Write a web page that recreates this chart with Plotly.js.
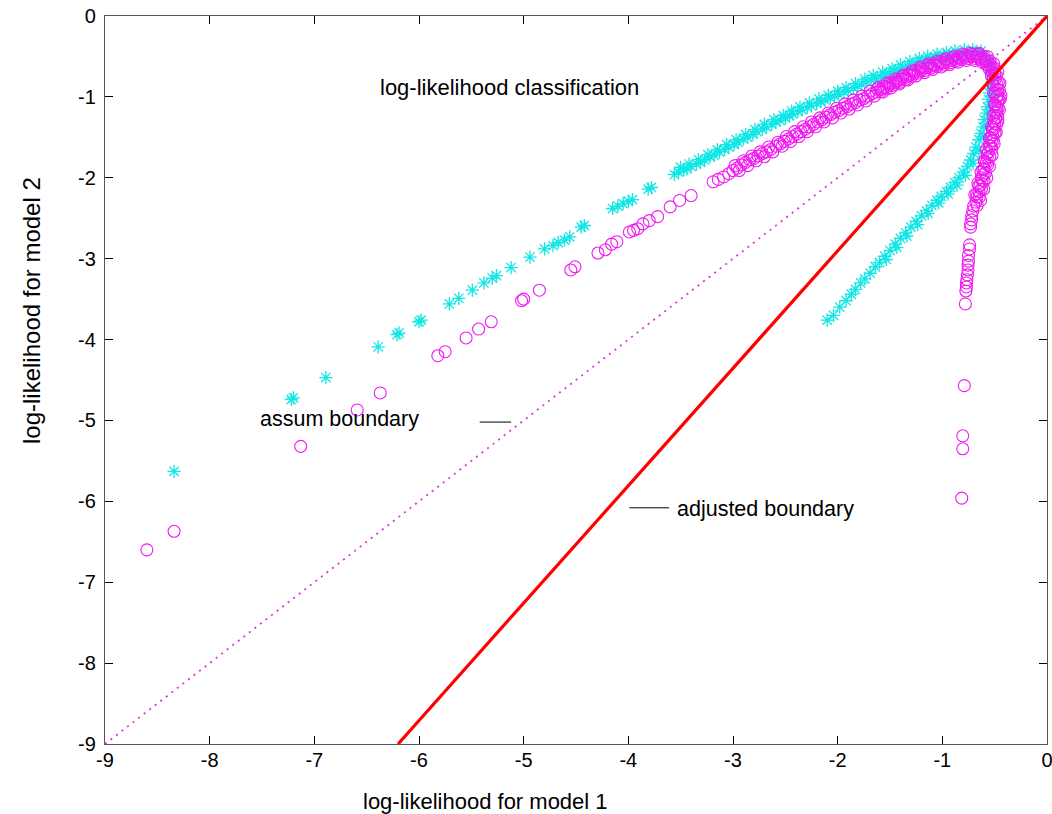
<!DOCTYPE html>
<html>
<head>
<meta charset="utf-8">
<script src="https://cdn.plot.ly/plotly-3.0.1.min.js"></script>
<style>html,body{margin:0;padding:0;background:#fff;}#chart{width:1052px;height:814px;}</style>
</head>
<body>
<div id="chart"></div>
<script>
// ---- tick labels ----
const xTickVals = [-9,-8,-7,-6,-5,-4,-3,-2,-1,0];
const xTickLabels = ['-9','-8','-7','-6','-5','-4','-3','-2','-1','0'];
const yTickVals = [-9,-8,-7,-6,-5,-4,-3,-2,-1,0];
const yTickLabels = ['-9','-8','-7','-6','-5','-4','-3','-2','-1','0'];

// ---- cyan asterisks (model 1 class) ----
const cyanSparseX = [-8.34,-7.22,-7.20,-6.89,-6.39,-6.21,-6.19,-6.00,-5.98,-5.71,-5.62,-5.49,-5.38,-5.30,-5.26,-5.12,-4.94,-4.80,-4.72,-4.67,-4.61,-4.56,-4.45,-4.42,-4.15,-4.10,-4.05,-4.00,-3.96,-3.81,-3.78];
const cyanSparseY = [-5.63,-4.74,-4.72,-4.47,-4.09,-3.94,-3.92,-3.78,-3.76,-3.56,-3.49,-3.39,-3.30,-3.24,-3.21,-3.11,-2.98,-2.88,-2.84,-2.80,-2.77,-2.73,-2.61,-2.59,-2.38,-2.35,-2.32,-2.29,-2.27,-2.14,-2.12];
const cyanUpperX = [-3.56,-3.52,-3.47,-3.44,-3.40,-3.35,-3.31,-3.27,-3.22,-3.18,-3.13,-3.08,-3.04,-2.99,-2.95,-2.90,-2.86,-2.81,-2.77,-2.72,-2.68,-2.63,-2.59,-2.55,-2.50,-2.46,-2.43,-2.38,-2.34,-2.29,-2.25,-2.20,-2.16,-2.12,-2.07,-2.03,-1.99,-1.94,-1.90,-1.85,-1.81,-1.77,-1.72,-1.68,-1.64,-1.59,-1.55,-1.51,-1.46,-1.42,-1.38,-1.33,-1.29,-1.25,-1.20,-1.16,-1.12,-1.07,-1.03,-0.99,-0.94,-0.90,-0.86,-0.81,-0.77,-0.73,-0.69,-0.65,-0.61,-0.57,-0.55,-0.54,-0.53,-0.53,-0.54];
const cyanUpperY = [-1.96,-1.93,-1.90,-1.89,-1.86,-1.83,-1.81,-1.78,-1.74,-1.72,-1.68,-1.65,-1.62,-1.59,-1.56,-1.52,-1.50,-1.46,-1.43,-1.40,-1.37,-1.34,-1.31,-1.29,-1.26,-1.23,-1.21,-1.18,-1.16,-1.13,-1.11,-1.08,-1.06,-1.04,-1.01,-0.99,-0.97,-0.94,-0.92,-0.89,-0.87,-0.84,-0.81,-0.79,-0.77,-0.75,-0.73,-0.71,-0.68,-0.66,-0.64,-0.62,-0.60,-0.58,-0.56,-0.55,-0.53,-0.52,-0.51,-0.50,-0.49,-0.48,-0.47,-0.47,-0.46,-0.46,-0.46,-0.47,-0.49,-0.53,-0.58,-0.64,-0.71,-0.78,-0.86];
const cyanUpperRowX = [-3.50,-3.42,-3.33,-3.24,-3.15,-3.06,-2.97,-2.88,-2.79,-2.70,-2.61,-2.52,-2.44,-2.36,-2.27,-2.18,-2.09,-2.00,-1.92,-1.83,-1.74,-1.66,-1.57,-1.48,-1.40,-1.31,-1.22,-1.14,-1.05,-0.96,-0.88,-0.79,-0.71,-0.63];
const cyanUpperRowY = [-1.87,-1.83,-1.775,-1.715,-1.655,-1.59,-1.53,-1.465,-1.405,-1.34,-1.28,-1.23,-1.175,-1.125,-1.075,-1.025,-0.98,-0.93,-0.885,-0.835,-0.78,-0.735,-0.695,-0.65,-0.605,-0.565,-0.525,-0.495,-0.47,-0.45,-0.43,-0.42,-0.415,-0.435];
const cyanApexRowX = [-1.62,-1.53,-1.44,-1.35,-1.26,-1.17,-1.08,-0.99,-0.90,-0.81,-0.72,-0.64];
const cyanApexRowY = [-0.795,-0.75,-0.70,-0.66,-0.615,-0.58,-0.555,-0.53,-0.51,-0.50,-0.49,-0.50];
const cyanLowerX = [-0.55,-0.56,-0.57,-0.58,-0.60,-0.61,-0.63,-0.65,-0.68,-0.70,-0.73,-0.76,-0.80,-0.84,-0.88,-0.92,-0.96,-1.01,-1.05,-1.10,-1.15,-1.20,-1.25,-1.30,-1.35,-1.40,-1.45,-1.50,-1.55,-1.60,-1.64,-1.69,-1.74,-1.78,-1.83,-1.87,-1.92,-1.98,-2.04,-2.10];
const cyanLowerY = [-0.95,-1.03,-1.12,-1.20,-1.28,-1.37,-1.45,-1.53,-1.62,-1.70,-1.78,-1.86,-1.93,-2.00,-2.06,-2.12,-2.17,-2.23,-2.28,-2.34,-2.41,-2.47,-2.54,-2.61,-2.68,-2.75,-2.82,-2.90,-2.97,-3.05,-3.10,-3.18,-3.25,-3.30,-3.38,-3.44,-3.52,-3.60,-3.70,-3.76];
const cyanLowerRowX = [-0.515,-0.535,-0.565,-0.60,-0.65,-0.705,-0.78,-0.86,-0.945,-1.035,-1.135,-1.235,-1.34,-1.435,-1.535];
const cyanLowerRowY = [-1.00,-1.16,-1.33,-1.49,-1.66,-1.82,-1.97,-2.09,-2.20,-2.31,-2.44,-2.58,-2.72,-2.86,-3.01];

// ---- magenta circles (model 2 class) ----
const magSparseX = [-8.60,-8.34,-7.13,-6.59,-6.37,-5.82,-5.75,-5.55,-5.43,-5.31,-5.02,-5.00,-4.85,-4.55,-4.51,-4.29,-4.22,-4.16,-4.11,-3.99,-3.95,-3.91,-3.86,-3.80,-3.72,-3.60,-3.51,-3.40,-3.19,-3.14,-3.09,-3.04];
const magSparseY = [-6.60,-6.37,-5.32,-4.87,-4.66,-4.20,-4.15,-3.98,-3.87,-3.78,-3.52,-3.50,-3.39,-3.14,-3.10,-2.93,-2.89,-2.82,-2.79,-2.67,-2.65,-2.63,-2.57,-2.53,-2.48,-2.36,-2.28,-2.22,-2.05,-2.02,-1.99,-1.95];
const magUpperX = [-3.00,-2.96,-2.92,-2.88,-2.84,-2.80,-2.76,-2.72,-2.68,-2.64,-2.59,-2.55,-2.51,-2.47,-2.43,-2.39,-2.35,-2.31,-2.27,-2.23,-2.19,-2.15,-2.11,-2.07,-2.03,-1.99,-1.95,-1.91,-1.87,-1.83,-1.79,-1.75,-1.71,-1.67,-1.63,-1.59,-1.55,-1.51,-1.47,-1.43,-1.39,-1.35,-1.31,-1.27,-1.23,-1.19,-1.15,-1.11,-1.07,-1.03,-0.99,-0.95,-0.91,-0.87,-0.83,-0.79,-0.75,-0.71,-0.67,-0.63,-0.60,-0.57,-0.54,-0.52,-0.50,-0.49,-0.48,-0.47,-0.47,-0.47];
const magUpperY = [-1.91,-1.88,-1.84,-1.81,-1.78,-1.76,-1.73,-1.70,-1.68,-1.65,-1.61,-1.58,-1.55,-1.52,-1.49,-1.46,-1.43,-1.40,-1.37,-1.34,-1.31,-1.28,-1.25,-1.22,-1.19,-1.17,-1.14,-1.12,-1.09,-1.07,-1.04,-1.02,-0.99,-0.96,-0.94,-0.91,-0.89,-0.86,-0.83,-0.81,-0.78,-0.76,-0.73,-0.71,-0.68,-0.66,-0.64,-0.62,-0.61,-0.59,-0.58,-0.56,-0.55,-0.53,-0.52,-0.51,-0.50,-0.50,-0.50,-0.51,-0.53,-0.56,-0.60,-0.65,-0.71,-0.77,-0.84,-0.91,-0.98,-1.05];
const magUpperRowAX = [-2.98,-2.90,-2.82,-2.74,-2.66,-2.57,-2.49,-2.41,-2.33,-2.25,-2.17,-2.09,-2.01,-1.93,-1.85,-1.77,-1.69,-1.61,-1.53,-1.45,-1.37,-1.29,-1.21,-1.13,-1.05,-0.97,-0.89,-0.81,-0.73,-0.65,-0.57,-0.51,-0.47,-0.45,-0.44];
const magUpperRowAY = [-1.85,-1.79,-1.73,-1.68,-1.62,-1.56,-1.49,-1.43,-1.37,-1.31,-1.26,-1.20,-1.14,-1.09,-1.04,-0.99,-0.93,-0.88,-0.83,-0.78,-0.73,-0.68,-0.63,-0.59,-0.56,-0.53,-0.50,-0.47,-0.46,-0.46,-0.50,-0.59,-0.69,-0.83,-0.98];
const magUpperRowBX = [-2.94,-2.86,-2.78,-2.70,-2.62,-2.53,-2.45,-2.37,-2.29,-2.21,-2.13,-2.05,-1.97,-1.89,-1.81,-1.73,-1.65,-1.57,-1.49,-1.41,-1.33,-1.25,-1.17,-1.09,-1.01,-0.93,-0.85,-0.77,-0.69,-0.62,-0.58,-0.55,-0.53,-0.52,-0.51];
const magUpperRowBY = [-1.91,-1.85,-1.79,-1.74,-1.68,-1.61,-1.55,-1.49,-1.43,-1.37,-1.31,-1.26,-1.20,-1.15,-1.10,-1.05,-0.99,-0.94,-0.89,-0.84,-0.79,-0.74,-0.70,-0.66,-0.63,-0.60,-0.57,-0.55,-0.55,-0.57,-0.60,-0.66,-0.74,-0.84,-0.95];
const magApexRowCX = [-1.62,-1.56,-1.50,-1.44,-1.38,-1.32,-1.26,-1.20,-1.14,-1.08,-1.02,-0.96,-0.90,-0.84,-0.78,-0.72,-0.66,-0.60,-0.545,-0.505,-0.485,-0.465,-0.455];
const magApexRowCY = [-0.90,-0.87,-0.83,-0.80,-0.75,-0.715,-0.675,-0.64,-0.61,-0.59,-0.565,-0.54,-0.52,-0.50,-0.485,-0.475,-0.475,-0.50,-0.56,-0.64,-0.73,-0.82,-0.92];
const magApexRowDX = [-1.59,-1.53,-1.47,-1.41,-1.35,-1.29,-1.23,-1.17,-1.11,-1.05,-0.99,-0.93,-0.87,-0.81,-0.75,-0.69,-0.64,-0.59,-0.555,-0.53,-0.515,-0.505,-0.495];
const magApexRowDY = [-0.935,-0.90,-0.855,-0.82,-0.785,-0.745,-0.705,-0.675,-0.645,-0.625,-0.605,-0.58,-0.555,-0.54,-0.525,-0.525,-0.535,-0.565,-0.62,-0.69,-0.77,-0.86,-0.95];
const magLowerX = [-0.48,-0.48,-0.49,-0.50,-0.51,-0.52,-0.53,-0.54,-0.56,-0.57,-0.58,-0.60,-0.61,-0.62,-0.64,-0.65,-0.67,-0.68,-0.70,-0.71,-0.72,-0.72,-0.73,-0.73,-0.74,-0.74,-0.75,-0.75,-0.755,-0.755,-0.76,-0.765,-0.77,-0.77,-0.775,-0.78,-0.79,-0.805,-0.805,-0.815];
const magLowerY = [-1.12,-1.19,-1.26,-1.33,-1.40,-1.47,-1.54,-1.61,-1.68,-1.75,-1.82,-1.89,-1.96,-2.03,-2.10,-2.17,-2.24,-2.30,-2.35,-2.41,-2.47,-2.52,-2.57,-2.61,-2.83,-2.88,-2.96,-3.03,-3.08,-3.14,-3.20,-3.26,-3.30,-3.35,-3.40,-3.56,-4.57,-5.19,-5.35,-5.96];
const magLowerRowAX = [-0.445,-0.455,-0.47,-0.485,-0.505,-0.525,-0.55,-0.575,-0.605,-0.635];
const magLowerRowAY = [-1.02,-1.16,-1.30,-1.44,-1.58,-1.72,-1.86,-2.00,-2.14,-2.28];
const magLowerRowBX = [-0.50,-0.51,-0.53,-0.55,-0.58,-0.60,-0.63,-0.66,-0.69];
const magLowerRowBY = [-1.09,-1.23,-1.37,-1.51,-1.65,-1.79,-1.93,-2.07,-2.21];
const magLowerRowCX = [-0.457,-0.467,-0.472,-0.482,-0.497,-0.512,-0.527,-0.547,-0.567,-0.587,-0.602,-0.627,-0.647,-0.667];
const magLowerRowCY = [-1.04,-1.14,-1.24,-1.34,-1.44,-1.54,-1.64,-1.74,-1.84,-1.94,-2.04,-2.14,-2.24,-2.34];
const magLowerRowDX = [-0.483,-0.493,-0.498,-0.508,-0.523,-0.538,-0.553,-0.573,-0.593,-0.613,-0.628,-0.653,-0.673];
const magLowerRowDY = [-1.00,-1.10,-1.20,-1.30,-1.40,-1.50,-1.60,-1.70,-1.80,-1.90,-2.00,-2.10,-2.20];

// ---- boundaries ----
const assumX = [-9, 0];
const assumY = [-9, 0];
const adjustedX = [-6.2, 0];
const adjustedY = [-9, 0];
const assumKeyX = [-5.42, -5.12];
const assumKeyY = [-5.02, -5.02];
const adjustedKeyX = [-3.99, -3.61];
const adjustedKeyY = [-6.08, -6.08];

// ---- texts ----
const chartTitle = 'log-likelihood classification';
const xTitle = 'log-likelihood for model 1';
const yTitle = 'log-likelihood for model 2';
const assumLabel = 'assum boundary';
const adjustedLabel = 'adjusted boundary';

const FONT = 'Liberation Sans, Arial, Helvetica, sans-serif';

const cyanX = cyanSparseX.concat(cyanUpperX, cyanUpperRowX, cyanApexRowX, cyanLowerX, cyanLowerRowX);
const cyanY = cyanSparseY.concat(cyanUpperY, cyanUpperRowY, cyanApexRowY, cyanLowerY, cyanLowerRowY);
const magX = magSparseX.concat(magUpperX, magUpperRowAX, magUpperRowBX, magApexRowCX, magApexRowDX,
                               magLowerX, magLowerRowAX, magLowerRowBX, magLowerRowCX, magLowerRowDX);
const magY = magSparseY.concat(magUpperY, magUpperRowAY, magUpperRowBY, magApexRowCY, magApexRowDY,
                               magLowerY, magLowerRowAY, magLowerRowBY, magLowerRowCY, magLowerRowDY);

const traces = [
  {type:'scatter', mode:'markers', x: cyanX, y: cyanY,
   marker:{symbol:'asterisk-open', size:11, color:'#12e6e6', line:{color:'#12e6e6', width:1.3}}, hoverinfo:'skip'},
  {type:'scatter', mode:'markers', x: magX, y: magY,
   marker:{symbol:'circle-open', size:12, color:'#f01af0', line:{color:'#f01af0', width:1.1}}, hoverinfo:'skip'},
  {type:'scatter', mode:'lines', x: assumX, y: assumY, line:{color:'#dd33dd', width:1.8, dash:'2px,5px'}, hoverinfo:'skip'},
  {type:'scatter', mode:'lines', x: adjustedX, y: adjustedY, line:{color:'#ff0000', width:3.2}, hoverinfo:'skip'},
  {type:'scatter', mode:'lines', x: assumKeyX, y: assumKeyY, line:{color:'#000', width:1}, hoverinfo:'skip'},
  {type:'scatter', mode:'lines', x: adjustedKeyX, y: adjustedKeyY, line:{color:'#000', width:1}, hoverinfo:'skip'}
];

const axisCommon = {
  range:[-9,0], tickmode:'array', ticks:'inside', ticklen:8, tickwidth:1, tickcolor:'#000',
  showline:true, linecolor:'#555', linewidth:1.2, mirror:'ticks', showgrid:false, zeroline:false,
  tickfont:{family:FONT, size:20, color:'#000'}, fixedrange:true, ticklabeloverflow:'allow'
};

const layout = {
  width:1052, height:814,
  margin:{l:105, r:5, t:16, b:70, pad:0},
  paper_bgcolor:'#fff', plot_bgcolor:'#fff',
  showlegend:false,
  font:{family:FONT, color:'#000'},
  xaxis: Object.assign({}, axisCommon, {tickvals:xTickVals, ticktext:xTickLabels, ticklabelstandoff:-2}),
  yaxis: Object.assign({}, axisCommon, {tickvals:yTickVals, ticktext:yTickLabels, ticklabelstandoff:4}),
  annotations:[
    {text:chartTitle, xref:'x', yref:'y', x:-6.39, y:-0.89, xanchor:'left', yanchor:'middle', showarrow:false, font:{family:FONT, size:22, color:'#000'}},
    {text:assumLabel, xref:'x', yref:'y', x:-7.535, y:-4.98, xanchor:'left', yanchor:'middle', showarrow:false, font:{family:FONT, size:21.5, color:'#000'}},
    {text:adjustedLabel, xref:'x', yref:'y', x:-3.55, y:-6.10, xanchor:'left', yanchor:'middle', showarrow:false, font:{family:FONT, size:21.5, color:'#000'}},
    {text:xTitle, xref:'paper', yref:'paper', x:(485-105)/942, y:(744-801)/728, xanchor:'center', yanchor:'middle', showarrow:false, font:{family:FONT, size:22, color:'#000'}},
    {text:yTitle, xref:'paper', yref:'paper', x:(31-105)/942, y:(744-311)/728, xanchor:'center', yanchor:'middle', textangle:-90, showarrow:false, font:{family:FONT, size:24, color:'#000'}}
  ]
};

Plotly.newPlot('chart', traces, layout, {staticPlot:true, displayModeBar:false});
</script>
</body>
</html>
